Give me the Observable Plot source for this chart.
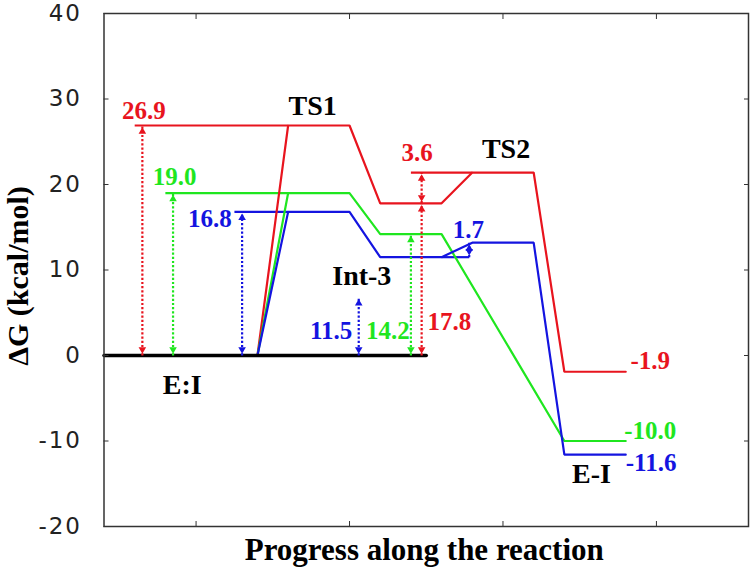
<!DOCTYPE html>
<html><head><meta charset="utf-8">
<script src="https://cdn.jsdelivr.net/npm/d3@7"></script>
<script src="https://cdn.jsdelivr.net/npm/@observablehq/plot@0.6"></script>
<style>body{margin:0;background:#fff}</style>
</head><body><div id="chart"></div>
<script>
// ---- data ----
const yTicks = [-20, -10, 0, 10, 20, 30, 40];
const xTicks = [1, 2, 3, 4];
const xDomain = [0.4, 4.6];
const yDomain = [-20, 40];

const seriesNames = ["red", "green", "blue"];
const seriesColors = ["#e8141e", "#1fe61f", "#1414e0"];

// reaction profiles (stage position, ΔG)
const redX = [1.4, 1.6, 2.0, 2.2, 2.6, 2.8, 3.2, 3.4, 3.8];
const redY = [0, 26.9, 26.9, 17.8, 17.8, 21.4, 21.4, -1.9, -1.9];
const greenX = [1.4, 1.6, 2.0, 2.2, 2.6, 3.4, 3.8];
const greenY = [0, 19.0, 19.0, 14.2, 14.2, -10.0, -10.0];
const blueX = [1.4, 1.6, 2.0, 2.2, 2.6, 2.8, 3.2, 3.4, 3.8];
const blueY = [0, 16.8, 16.8, 11.5, 11.5, 13.2, 13.2, -11.6, -11.6];

// reference state E:I
const baseX = [0.4, 2.5];
const baseY = [0, 0];

// level extension lines
const extSeries = ["red", "green", "blue", "red", "blue"];
const extY = [26.9, 19.0, 16.8, 21.4, 11.5];
const extX1 = [0.6, 0.8, 1.25, 2.4, 2.6];
const extX2 = [1.6, 1.6, 1.6, 2.8, 2.78];

// dotted double arrows (barriers)
const arrSeries = ["red", "green", "blue", "blue", "green", "red", "red", "blue"];
const arrX = [0.65, 0.85, 1.3, 2.06, 2.4, 2.47, 2.47, 2.78];
const arrY1 = [0, 0, 0, 0, 0, 0, 17.8, 11.5];
const arrY2 = [26.9, 19.0, 16.8, 6.8, 14.2, 17.8, 21.4, 13.2];

// value labels
const valText = ["26.9", "19.0", "16.8", "3.6", "1.7", "11.5", "14.2", "17.8", "-1.9", "-10.0", "-11.6"];
const valSeries = ["red", "green", "blue", "red", "blue", "blue", "green", "red", "red", "green", "blue"];
const valX = [0.66, 0.86, 1.09, 2.44, 2.775, 1.88, 2.25, 2.65, 3.96, 3.96, 3.965];
const valY = [28.6, 20.85, 15.95, 23.65, 14.65, 2.85, 2.85, 3.9, -0.65, -8.85, -12.6];

// state names
const nameText = ["TS1", "TS2", "Int-3", "E:I", "E-I"];
const nameX = [1.76, 3.02, 2.08, 0.91, 3.577];
const nameY = [29.2, 24.15, 9.3, -3.45, -13.85];

const yLabel = "ΔG (kcal/mol)";
const xLabel = "Progress along the reaction";

// ---- build tables ----
const colorOf = s => seriesColors[seriesNames.indexOf(s)];
const profiles = {
  red: d3.zip(redX, redY),
  green: d3.zip(greenX, greenY),
  blue: d3.zip(blueX, blueY)
};
const ext = extSeries.map((s, i) => ({s, y: extY[i], x1: extX1[i], x2: extX2[i]}));
const arrows = arrSeries.map((s, i) => ({s, x: arrX[i], y1: arrY1[i], y2: arrY2[i]}));
const vals = valText.map((t, i) => ({t, s: valSeries[i], x: valX[i], y: valY[i]}));
const names = nameText.map((t, i) => ({t, x: nameX[i], y: nameY[i]}));

const serif = "'Liberation Serif', 'Times New Roman', serif";
const marks = [];

// extension lines
for (const s of seriesNames) {
  marks.push(Plot.link(ext.filter(d => d.s === s), {
    x1: "x1", x2: "x2", y1: "y", y2: "y", stroke: colorOf(s), strokeWidth: 2.2
  }));
}
// profiles
for (const s of seriesNames) {
  marks.push(Plot.line(profiles[s], {
    x: d => d[0], y: d => d[1], stroke: colorOf(s), strokeWidth: 2.2, strokeLinejoin: "miter"
  }));
}
// base line
marks.push(Plot.line(d3.zip(baseX, baseY), {x: d => d[0], y: d => d[1], stroke: "#000", strokeWidth: 3.5}));

// arrows
for (const s of seriesNames) {
  const data = arrows.filter(d => d.s === s);
  const c = colorOf(s);
  marks.push(Plot.link(data, {x1: "x", x2: "x", y1: "y1", y2: "y2", stroke: c, strokeWidth: 2.2, strokeDasharray: "2.2,2"}));
  marks.push(Plot.dot(data, {x: "x", y: "y2", symbol: "triangle", r: 2.8, fill: c, stroke: "none", dy: 6}));
  marks.push(Plot.dot(data, {x: "x", y: "y1", symbol: "triangle", r: 2.8, fill: c, stroke: "none", rotate: 180, dy: -6}));
}

// value labels
for (const s of seriesNames) {
  marks.push(Plot.text(vals.filter(d => d.s === s), {
    x: "x", y: "y", text: "t", fill: colorOf(s), fontSize: 25, fontWeight: "bold",
    fontFamily: serif, textAnchor: "middle", lineAnchor: "middle"
  }));
}
// names
marks.push(Plot.text(names, {
  x: "x", y: "y", text: "t", fill: "#000", fontSize: 28, fontWeight: "bold",
  fontFamily: serif, textAnchor: "middle", lineAnchor: "middle"
}));

// frame and axes
marks.push(Plot.frame({stroke: "#333", strokeWidth: 1.5}));
marks.push(Plot.axisY(yTicks, {anchor: "left", tickSize: 0, tickPadding: 22, fontSize: 23,
  fontFamily: "'DejaVu Sans', sans-serif", color: "#222", label: null, tickFormat: d => String(d)}));
marks.push(Plot.axisY(yTicks, {anchor: "left", tickSize: 5, dx: 5, tickFormat: () => "", color: "#333", label: null}));
marks.push(Plot.axisY(yTicks, {anchor: "right", tickSize: 5, dx: -5, tickFormat: () => "", color: "#333", label: null}));
marks.push(Plot.axisX(xTicks, {anchor: "bottom", tickSize: 5, dy: -5, tickFormat: () => "", color: "#333", label: null}));
marks.push(Plot.axisX(xTicks, {anchor: "top", tickSize: 5, dy: 5, tickFormat: () => "", color: "#333", label: null}));

// axis titles
marks.push(Plot.text([yLabel], {frameAnchor: "left", textAnchor: "middle", lineAnchor: "middle",
  rotate: -90, dx: -86, dy: 6, fontSize: 30, fontWeight: "bold", fontFamily: serif, fill: "#000"}));
marks.push(Plot.text([xLabel], {frameAnchor: "bottom", textAnchor: "middle", lineAnchor: "middle",
  dy: 24, dx: -2, fontSize: 31, fontWeight: "bold", fontFamily: serif, fill: "#000"}));

const chart = Plot.plot({
  width: 750, height: 568,
  marginLeft: 103.5, marginRight: 2, marginTop: 13, marginBottom: 42,
  x: {domain: xDomain, axis: null},
  y: {domain: yDomain, axis: null},
  style: {background: "#fff", overflow: "visible"},
  marks
});
d3.select(chart).selectAll('g[aria-label="y-axis tick label"]').attr("letter-spacing", "2");
document.getElementById("chart").appendChild(chart);
</script>
</body></html>
